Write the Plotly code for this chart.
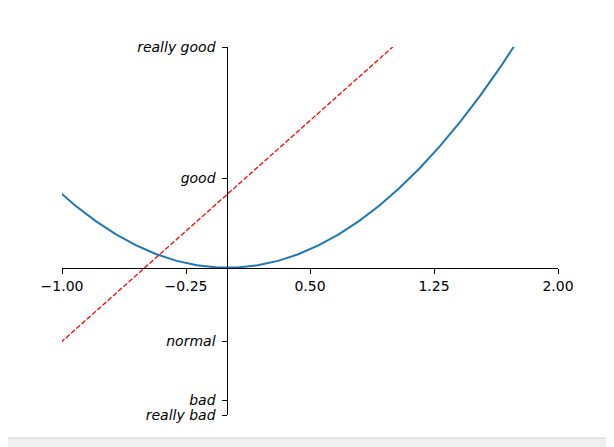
import plotly.graph_objects as go

# Blue curve samples (x, y)
curve_x = [-1.1633, -1.0408, -0.9184, -0.7959, -0.6735, -0.5510, -0.4286, -0.3061,
           -0.1837, -0.0612, 0.0612, 0.1837, 0.3061, 0.4286, 0.5510, 0.6735,
           0.7959, 0.9184, 1.0408, 1.1633, 1.2857, 1.4082, 1.5306, 1.6531, 1.7755]
curve_y = [1.3532, 1.0833, 0.8435, 0.6335, 0.4536, 0.3036, 0.1837, 0.0937,
           0.0337, 0.0037, 0.0037, 0.0337, 0.0937, 0.1837, 0.3036, 0.4536,
           0.6335, 0.8435, 1.0833, 1.3532, 1.6531, 1.9830, 2.3428, 2.7326, 3.1524]

# Red dashed line endpoints
line_x = [-3.0, 3.0]
line_y = [-5.0, 7.0]

x_ticks = [-1.0, -0.25, 0.5, 1.25, 2.0]
x_labels = ["\u22121.00", "\u22120.25", "0.50", "1.25", "2.00"]
y_ticks = [-2, -1.8, -1, 1.22, 3]
y_labels = ["really bad", "bad", "normal", "good", "really good"]

fig = go.Figure()
fig.add_trace(go.Scatter(x=curve_x, y=curve_y, mode="lines",
                         line=dict(color="#1f77b4", width=2)))
fig.add_trace(go.Scatter(x=line_x, y=line_y, mode="lines",
                         line=dict(color="red", width=1.3, dash="5px,2px")))

fig.update_layout(
    width=614, height=447,
    margin=dict(l=54, r=64, t=39, b=40),
    paper_bgcolor="white", plot_bgcolor="white",
    showlegend=False,
    font=dict(family="DejaVu Sans", size=14, color="black"),
    xaxis=dict(range=[-1, 2], tickvals=x_ticks, ticktext=x_labels,
               showgrid=False, zeroline=False, showline=True, linecolor="black",
               linewidth=1, ticks="outside", ticklen=5, tickcolor="black",
               anchor="free", position=0.4, tickfont=dict(size=14)),
    yaxis=dict(range=[-2, 3], tickvals=y_ticks, ticktext=y_labels,
               showgrid=False, zeroline=False, showline=True, linecolor="black",
               linewidth=1, ticks="outside", ticklen=5, tickcolor="black",
               anchor="free", position=1/3, ticklabelstandoff=4,
               tickfont=dict(size=14, style="italic")),
    shapes=[dict(type="rect", xref="paper", yref="paper",
                 x0=-0.3, x1=1.3, y0=-0.0625, y1=-0.3,
                 fillcolor="#f0f0f0", line=dict(color="#d0d0d0", width=1),
                 layer="below")],
)

fig.write_html("out.html")
